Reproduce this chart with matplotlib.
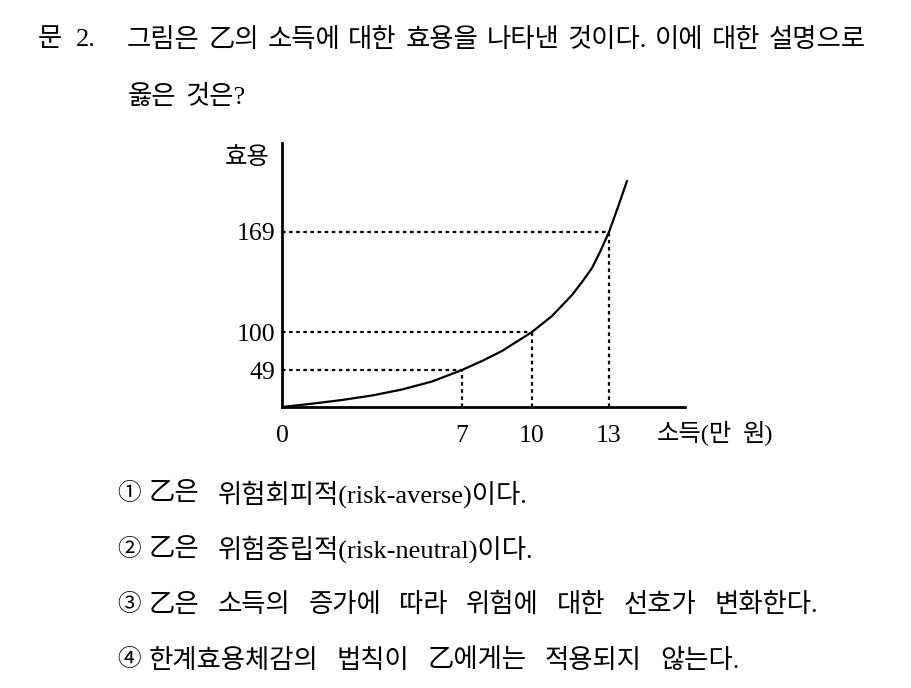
import matplotlib
matplotlib.use('Agg')
import matplotlib.pyplot as plt

plt.rcParams['font.family'] = ['Liberation Serif', 'Noto Sans CJK KR', 'DejaVu Sans']

W, H = 911, 688

# question text
question_no = '문'
question_num = '2.'
question_line1 = ['그림은', '乙의', '소득에', '대한', '효용을', '나타낸', '것이다.', '이에', '대한', '설명으로']
question_line2 = ['옳은', '것은?']

# chart, drawn in pixel-like units measured from the origin
x_tick_pos = [0, 180, 250, 327]
x_tick_labels = ['0', '7', '10', '13']
y_tick_pos = [37, 75, 175]
y_tick_labels = ['49', '100', '169']
curve_x = [0, 30, 60, 90, 120, 150, 180, 200, 220, 250, 270, 290, 300, 310, 318, 327, 336, 345]
curve_y = [0, 3.3, 7, 11.5, 17.5, 25.5, 37, 46, 56, 75, 91, 112, 125, 139, 155, 175, 200, 226]
guide_x = [180, 250, 327]
guide_y = [37, 75, 175]
x_label = ['소득(만', '원)']
y_label = '효용'

# answer choices
choice_marks = ['①', '②', '③', '④']
choice_texts = [
    '乙은 위험회피적(risk-averse)이다.',
    '乙은 위험중립적(risk-neutral)이다.',
    '乙은 소득의 증가에 따라 위험에 대한 선호가 변화한다.',
    '한계효용체감의 법칙이 乙에게는 적용되지 않는다.',
]

fs = 19
fs_chart = 17.5

fig = plt.figure(figsize=(W / 100, H / 100), dpi=100)
fig.patch.set_facecolor('white')
renderer = fig.canvas.get_renderer()


def fx(x):
    return x / W


def fy(y):
    return 1 - y / H


def word_widths(words, size):
    widths = []
    for w in words:
        t = fig.text(0, 0, w, fontsize=size)
        widths.append(t.get_window_extent(renderer).width)
        t.remove()
    return widths


def draw_words(words, x0, y, size, gap):
    x = x0
    for w, wd in zip(words, word_widths(words, size)):
        fig.text(fx(x), fy(y), w, fontsize=size, va='center', ha='left')
        x += wd + gap


def gap_for(words, x0, x1, size):
    total = sum(word_widths(words, size))
    return (x1 - x0 - total) / (len(words) - 1)


# question, first line justified to the right margin
fig.text(fx(38), fy(40), question_no, fontsize=fs, va='center', ha='left')
fig.text(fx(76), fy(40), question_num, fontsize=fs, va='center', ha='left')
draw_words(question_line1, 127, 40, fs, gap_for(question_line1, 127, 866, fs))
draw_words(question_line2, 128, 97, fs, 9)

# axes: origin at (282, 407), x axis to 685, y axis up to 143
ox, oy = 282, 407
ax_w, ax_h = 403, 264
ax = fig.add_axes([fx(ox), fy(oy), ax_w / W, ax_h / H])
ax.set_xlim(0, ax_w)
ax.set_ylim(0, ax_h)
for side in ['top', 'right']:
    ax.spines[side].set_visible(False)
for side in ['left', 'bottom']:
    ax.spines[side].set_linewidth(2.0)
    ax.spines[side].set_color('black')

ax.plot(curve_x, curve_y, color='black', lw=1.6, solid_joinstyle='round',
        solid_capstyle='round', clip_on=False)

for gx, gy in zip(guide_x, guide_y):
    ax.plot([0, gx], [gy, gy], color='black', lw=1.6, linestyle=(0, (1.6, 1.6)))
    ax.plot([gx, gx], [0, gy], color='black', lw=1.6, linestyle=(0, (1.6, 1.6)))

ax.set_xticks(x_tick_pos)
ax.set_xticklabels(x_tick_labels, fontsize=fs_chart + 1)
ax.set_yticks(y_tick_pos)
ax.set_yticklabels(y_tick_labels, fontsize=fs_chart + 1)
ax.tick_params(axis='x', length=0, pad=13)
ax.tick_params(axis='y', length=0, pad=5)

draw_words(x_label, 657, 433, fs_chart, 11)
ax.text(-35, 249, y_label, fontsize=fs_chart, va='center', ha='center')

# choices share one word gap, taken from the longest line
choice_words = [t.split(' ') for t in choice_texts]
choice_gap = gap_for(choice_words[2], 149, 818, fs)
for i, (mark, words) in enumerate(zip(choice_marks, choice_words)):
    y = 494 + i * 55.5
    fig.text(fx(117), fy(y), mark, fontsize=17, va='center', ha='left')
    draw_words(words, 149, y, fs, choice_gap)

fig.savefig('out.png', dpi=100, facecolor='white')
